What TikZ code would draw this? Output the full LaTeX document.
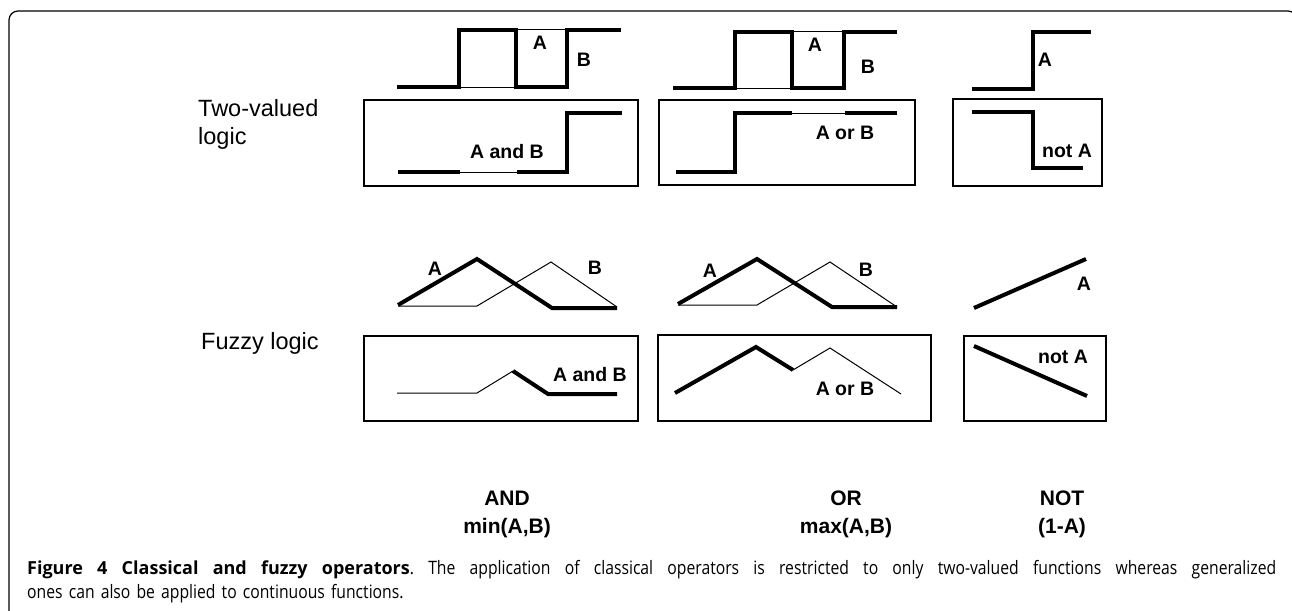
\documentclass[tikz,border=0pt]{standalone}
\usepackage{fontspec}
\setmainfont{Liberation Sans}
\newfontfamily\capfont[FakeStretch=0.85]{Open Sans}
\newfontfamily\capbold{Open Sans Bold}
\newcommand\capsetup{\capfont\fontsize{18.5}{24}\selectfont\frenchspacing\spaceskip=0.33em plus 1em minus 0.03em\relax}
\begin{document}
\begin{tikzpicture}[x=1pt,y=-1pt,
  thk/.style={line width=4pt, line join=miter, line cap=butt},
  thn/.style={line width=1pt},
  panel/.style={draw, line width=1.3pt},
  lbl/.style={font=\fontsize{19.5}{19.5}\selectfont\bfseries, inner sep=0pt},
  side/.style={font=\fontsize{23.5}{28}\selectfont, inner sep=0pt, anchor=base west},
  oplbl/.style={font=\fontsize{21}{21}\selectfont\bfseries, inner sep=0pt, anchor=base},
  frame/.style={line width=1.2pt, rounded corners=9pt}]
\useasboundingbox (0,0) rectangle (1292,610);
% outer frame
\draw[frame] (9,640) -- (9,11) -- (1297,11) -- (1297,60);

% ---------- two-valued logic ----------
\node[side] (tv1) at (198,116) {Two-valued};
\node[side] (tv2) at (198,144) {logic};
% AND
\draw[thn] (459,87) -- (516,87) (516,30) -- (567,30);
\draw[thk] (397,87) -- (459,87) -- (459,30) -- (516,30) -- (516,87) -- (567,87) -- (567,30) -- (621,30);
\node[lbl] (a1) at (540,43) {A};
\node[lbl] (b1) at (584,60) {B};
\draw[panel] (364,100) rectangle (638,186);
\draw[thn] (460,172) -- (517,172);
\draw[thk] (398,172) -- (460,172);
\draw[thk] (517,172) -- (567,172) -- (567,113) -- (622,113);
\node[lbl] (and1) at (507,152) {A and B};
% OR
\draw[thn] (735,88) -- (792,88) (792,32) -- (844,32);
\draw[thk] (673,88) -- (735,88) -- (735,32) -- (792,32) -- (792,88) -- (844,88) -- (844,32) -- (897,32);
\node[lbl] (a2) at (815,45) {A};
\node[lbl] (b2) at (868,67) {B};
\draw[panel] (659,100) rectangle (915,185);
\draw[thn] (792,113) -- (845,113);
\draw[thk] (676,172) -- (735,172) -- (735,113) -- (792,113);
\draw[thk] (845,113) -- (897,113);
\node[lbl] (or1) at (845,133) {A or B};
% NOT
\draw[thk] (972,89) -- (1033,89) -- (1033,32) -- (1091,32);
\node[lbl] (a3) at (1045,60) {A};
\draw[panel] (953,99) rectangle (1102,186);
\draw[thk] (972,112) -- (1033,112) -- (1033,168) -- (1083,168);
\node[lbl] (not1) at (1067,151) {not A};

% ---------- fuzzy logic ----------
\node[side] (fz) at (201,349) {Fuzzy logic};
% AND
\draw[thn] (398,306) -- (477,306) -- (551,262) -- (617,307);
\draw[thk] (398,305) -- (477,259) -- (552,308) -- (617,308);
\node[lbl] (a4) at (435,269) {A};
\node[lbl] (b4) at (595,268) {B};
\draw[panel] (364,336) rectangle (638,421);
\draw[thn] (397,393) -- (477,393) -- (513,371);
\draw[thk] (513,371) -- (548,394) -- (617,394);
\node[lbl] (and2) at (590,375) {A and B};
% OR
\draw[thn] (678,305) -- (757,305) -- (830,262) -- (897,307);
\draw[thk] (678,304) -- (757,259) -- (832,307) -- (897,307);
\node[lbl] (a5) at (710,271) {A};
\node[lbl] (b5) at (866,270) {B};
\draw[panel] (658,335) rectangle (931,421);
\draw[thk] (675,393) -- (756,347) -- (793,370);
\draw[thn] (793,370) -- (830,348) -- (901,394);
\node[lbl] (or2) at (845,389) {A or B};
% NOT
\draw[thk] (974,308) -- (1086,259);
\node[lbl] (a6) at (1084,284) {A};
\draw[panel] (964,336) rectangle (1106,421);
\draw[thk] (974,346) -- (1087,396);
\node[lbl] (not2) at (1063,357) {not A};

% ---------- operator names ----------
\node[oplbl] (op1) at (507,505) {AND};
\node[oplbl] (op1b) at (507,533) {min(A,B)};
\node[oplbl] (op2) at (846,505) {OR};
\node[oplbl] (op2b) at (846,533) {max(A,B)};
\node[oplbl] (op3) at (1062,505) {NOT};
\node[oplbl] (op3b) at (1062,533) {(1-A)};

% ---------- caption ----------
\node[anchor=base west, inner sep=0pt, text width=1249pt, align=justify,
      font=\capsetup] (cap) at (27,574)
  {{\capbold\fontsize{18}{24}\selectfont Figure 4 Classical and fuzzy operators}. The application of classical operators is restricted to only two-valued functions whereas generalized\linebreak ones can also be applied to continuous functions.};
\end{tikzpicture}
\end{document}
